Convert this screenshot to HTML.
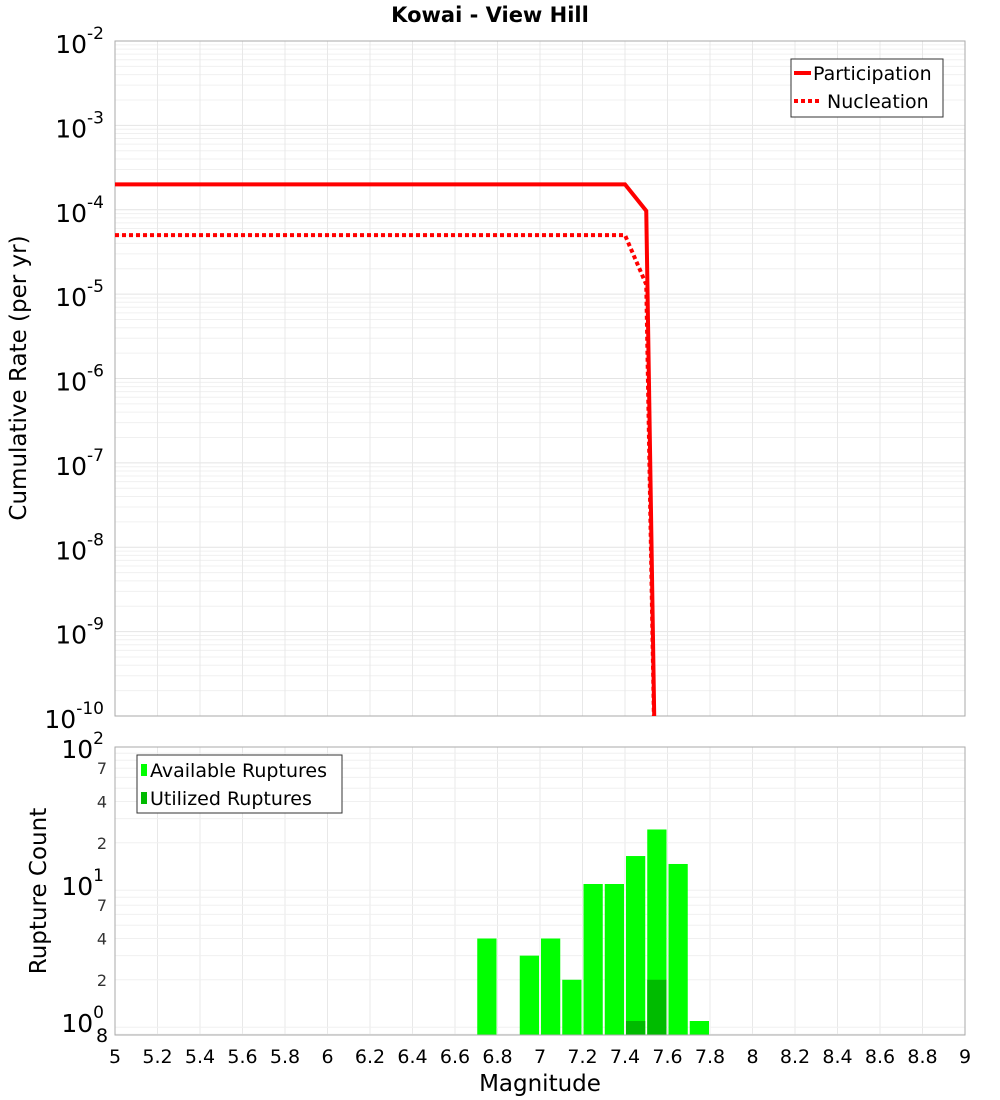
<!DOCTYPE html>
<html><head><meta charset="utf-8"><style>
body{margin:0;background:#fff}
svg{display:block;font-family:"DejaVu Sans","Liberation Sans",sans-serif}
</style></head><body>
<svg id="c" width="1000" height="1100" xmlns="http://www.w3.org/2000/svg">
<defs>
<clipPath id="clipTop"><rect x="115" y="41" width="850" height="675"/></clipPath>
<clipPath id="clipBot"><rect x="115" y="747" width="850" height="288"/></clipPath>
</defs>
<text x="490" y="22" text-anchor="middle" font-size="21" font-weight="bold">Kowai - View Hill</text>
<g id="topg"></g><g id="botg"></g>
<text transform="translate(26,378) rotate(-90)" text-anchor="middle" font-size="23">Cumulative Rate (per yr)</text>
<text transform="translate(46,891) rotate(-90)" text-anchor="middle" font-size="23">Rupture Count</text>
<text x="540" y="1091" text-anchor="middle" font-size="23">Magnitude</text>
</svg>
<script>
const xTicks=[5,5.2,5.4,5.6,5.8,6,6.2,6.4,6.6,6.8,7,7.2,7.4,7.6,7.8,8,8.2,8.4,8.6,8.8,9];
const partMags=[5,7.4,7.5,7.55];
const partRates=[2e-4,2e-4,9.7e-5,1e-12];
const nuclMags=[5,7.4,7.5,7.55];
const nuclRates=[5e-5,5e-5,1.3e-5,1e-12];
const binMags=[6.75,6.95,7.05,7.15,7.25,7.35,7.45,7.55,7.65,7.75];
const availCounts=[4,3,4,2,10,10,16,25,14,1];
const usedMags=[7.45,7.55];
const usedCounts=[1,2];
const topExps=[-2,-3,-4,-5,-6,-7,-8,-9,-10];

const NS="http://www.w3.org/2000/svg";
const X=m=>115+(m-5)*212.5;
const YT=v=>41+(-2-Math.log10(v))*84.375;
const YB=v=>1021-Math.log10(v)*137;
function mk(p,t,a,txt){const e=document.createElementNS(NS,t);for(const k in a)e.setAttribute(k,a[k]);if(txt!=null)e.textContent=txt;p.appendChild(e);return e;}
const topG=document.getElementById('topg'),botG=document.getElementById('botg');

for(let d=-10;d<-2;d++)for(let k=2;k<=9;k++){const y=YT(k*Math.pow(10,d));
 const l=mk(topG,'line',{x1:115,x2:965,y1:y,y2:y,stroke:'#f0f0f0','stroke-width':1});
 
 }
topExps.forEach(e=>{const y=YT(Math.pow(10,e));const l=mk(topG,'line',{x1:115,x2:965,y1:y,y2:y,stroke:'#e4e4e4'});
 
 
 const t=mk(topG,'text',{x:104,y:y+12,'text-anchor':'end','font-size':25});
 
 
 t.textContent='10';const s=mk(t,'tspan',{dy:-14,'font-size':17});s.textContent=String(e);});
xTicks.forEach(m=>{const x=X(m);
 const l=mk(topG,'line',{x1:x,x2:x,y1:41,y2:716,stroke:'#e8e8e8'});
 
 
 const l2=mk(botG,'line',{x1:x,x2:x,y1:747,y2:1035,stroke:'#e8e8e8'});
 
 
 const t=mk(botG,'text',{x:x,y:1063,'text-anchor':'middle','font-size':19},String(m));
 
 });
const tf=mk(topG,'rect',{x:115,y:41,width:850,height:675,fill:'none',stroke:'#aaa'});



const lg=mk(topG,'g',{'clip-path':'url(#clipTop)'});
const pp=mk(lg,'polyline',{points:partMags.map((m,i)=>X(m)+','+YT(partRates[i])).join(' '),fill:'none',stroke:'#ff0000','stroke-width':4});


const np=mk(lg,'polyline',{points:nuclMags.map((m,i)=>X(m)+','+YT(nuclRates[i])).join(' '),fill:'none',stroke:'#ff0000','stroke-width':4,'stroke-dasharray':'4,3'});



const tl=mk(topG,'g',{});


mk(tl,'rect',{x:791,y:59,width:152,height:58,fill:'#fff',stroke:'#333'});
mk(tl,'line',{x1:794,x2:811,y1:73,y2:73,stroke:'#f00','stroke-width':4});
mk(tl,'text',{x:813,y:80,'font-size':19},'Participation');
mk(tl,'line',{x1:794,x2:822,y1:101,y2:101,stroke:'#f00','stroke-width':4,'stroke-dasharray':'4,3'});
mk(tl,'text',{x:827,y:108,'font-size':19},'Nucleation');

for(let d=-1;d<2;d++)for(let k=2;k<=9;k++){const v=k*Math.pow(10,d);const y=YB(v);if(y>1035||y<747)continue;
 const l=mk(botG,'line',{x1:115,x2:965,y1:y,y2:y,stroke:'#f0f0f0'});
 
 }
[[7,1],[4,1],[2,1],[7,0],[4,0],[2,0]].forEach(([k,d])=>{const t=mk(botG,'text',{x:107,y:YB(k*Math.pow(10,d))+6,'text-anchor':'end','font-size':16,fill:'#333'},String(k));
 
 });
[0,1,2].forEach(e=>{const y=YB(Math.pow(10,e));const t=mk(botG,'text',{x:104,y:y+11,'text-anchor':'end','font-size':25});
 
 
 t.textContent='10';const s=mk(t,'tspan',{dy:-14,'font-size':17});s.textContent=String(e);});
const t8=mk(botG,'text',{x:102,y:1042,'text-anchor':'middle','font-size':19},'8');



const bg=mk(botG,'g',{'clip-path':'url(#clipBot)'});
binMags.forEach((m,i)=>{const y=YB(availCounts[i]);const r=mk(bg,'rect',{x:X(m-0.05)+1,y:y,width:19.25,height:1035-y,fill:'#00ff00'});
 
 });
usedMags.forEach((m,i)=>{const y=YB(usedCounts[i]);const r=mk(bg,'rect',{x:X(m-0.05)+1,y:y,width:19.25,height:1035-y,fill:'#00bb00'});
 
 });
const bf=mk(botG,'rect',{x:115,y:747,width:850,height:288,fill:'none',stroke:'#aaa'});



const bl=mk(botG,'g',{});


mk(bl,'rect',{x:137,y:755,width:205,height:58,fill:'#fff',stroke:'#333'});
mk(bl,'rect',{x:141,y:764,width:6,height:12,fill:'#00ff00'});
mk(bl,'text',{x:150,y:777,'font-size':19},'Available Ruptures');
mk(bl,'rect',{x:141,y:792,width:6,height:12,fill:'#00bb00'});
mk(bl,'text',{x:150,y:805,'font-size':19},'Utilized Ruptures');
</script>
</body></html>
